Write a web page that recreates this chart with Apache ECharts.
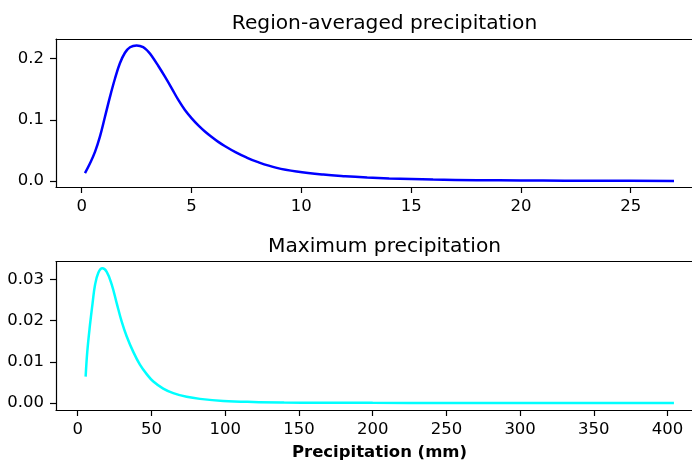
<!DOCTYPE html>
<html>
<head>
<meta charset="utf-8">
<script src="https://cdn.jsdelivr.net/npm/echarts@6/dist/echarts.min.js"></script>
<style>
html,body{margin:0;padding:0;background:#fff;}
#c{width:692px;height:460px;}
</style>
</head>
<body>
<div id="c"></div>
<script>
// Region-averaged precipitation (top panel)
const avgX = [0.15,0.38,0.61,0.83,1.06,1.29,1.52,1.74,1.97,2.2,2.5,2.8,3.03,3.19,3.49,3.79,4.10,4.40,4.70,5.01,5.31,5.61,5.92,6.22,6.53,7.0,7.5,8.0,8.88,9.79,11.0,12,13,14,15,16,18,20,22,24,26.97];
const avgY = [0.013,0.029,0.048,0.0725,0.105,0.138,0.168,0.1925,0.2097,0.2187,0.2217,0.219,0.2115,0.2045,0.188,0.1706,0.1516,0.1325,0.1161,0.1025,0.0910,0.0810,0.0720,0.0640,0.0568,0.0472,0.0385,0.0312,0.0215,0.0155,0.0105,0.0078,0.0058,0.0043,0.0032,0.0024,0.0014,0.0009,0.0006,0.0004,0.0002];
// Maximum precipitation (bottom panel)
const maxX = [5.4,6.5,8.3,10.2,11.7,14.0,16.7,19.7,23.1,26.4,29.8,33.2,37.7,42.2,46.8,51.3,58,64.8,73.9,82.9,98.7,119,140,164,200,250,300,350,404.3];
const maxY = [0.0064,0.0124,0.0188,0.0245,0.0285,0.0316,0.03267,0.0318,0.0287,0.0243,0.0198,0.0162,0.0124,0.0093,0.0070,0.0052,0.0035,0.0024,0.0015,0.0010,0.0005,0.00024,0.00012,0.00007,0.00003,0.00001,0,0,0];
// Tick labels
const avgXTicks = [0,5,10,15,20,25];
const avgYTicks = [0,0.1,0.2];
const maxXTicks = [0,50,100,150,200,250,300,350,400];
const maxYTicks = [0,0.01,0.02,0.03];
const titles = ['Region-averaged precipitation','Maximum precipitation'];
const xLabel = 'Precipitation (mm)';

const FONT = 'DejaVu Sans';
const SPINE = {color:'#000', width:1.2};
const chart = echarts.init(document.getElementById('c'), null, {renderer:'canvas'});

function xAxisCfg(idx, min, max, ticks, name){
  return {
    type:'value', gridIndex:idx, min:min, max:max, position:'bottom',
    splitLine:{show:false},
    axisLine:{show:true, onZero:false, lineStyle:SPINE},
    axisTick:{show:true, inside:false, length:6, lineStyle:SPINE, customValues:ticks},
    axisLabel:{show:true, margin:11, color:'#000', fontFamily:FONT, fontSize:16.5, customValues:ticks, formatter:v=>String(v)},
    name:name||'', nameLocation:'middle', nameGap:34,
    nameTextStyle:{fontFamily:FONT, fontSize:16.5, fontWeight:'bold', color:'#000'}
  };
}
function topSpine(idx, min, max){
  return {
    type:'value', gridIndex:idx, min:min, max:max, position:'top',
    splitLine:{show:false},
    axisLine:{show:true, onZero:false, lineStyle:SPINE},
    axisTick:{show:false}, axisLabel:{show:false}
  };
}
function yAxisCfg(idx, min, max, ticks, dec){
  return {
    type:'value', gridIndex:idx, min:min, max:max, position:'left',
    splitLine:{show:false},
    axisLine:{show:true, onZero:false, lineStyle:SPINE},
    axisTick:{show:true, inside:false, length:6, lineStyle:SPINE, customValues:ticks},
    axisLabel:{show:true, margin:12, color:'#000', fontFamily:FONT, fontSize:16.5, customValues:ticks, formatter:v=>Number(v).toFixed(dec)}
  };
}

const option = {
  animation:false,
  backgroundColor:'#fff',
  title:[
    {text:titles[0], left:379.5, textAlign:'center', top:9, textStyle:{fontFamily:FONT, fontSize:20.2, fontWeight:'normal', color:'#000'}},
    {text:titles[1], left:379.5, textAlign:'center', top:232, textStyle:{fontFamily:FONT, fontSize:20.2, fontWeight:'normal', color:'#000'}}
  ],
  grid:[
    {left:56, top:39, width:647, height:148, show:false, containLabel:false, outerBoundsMode:'none'},
    {left:56, top:261.7, width:647, height:148.3, show:false, containLabel:false, outerBoundsMode:'none'}
  ],
  xAxis:[
    xAxisCfg(0, -1.17, 28.29, avgXTicks),
    xAxisCfg(1, -14.7, 424, maxXTicks, xLabel),
    topSpine(0, -1.17, 28.29),
    topSpine(1, -14.7, 424)
  ],
  yAxis:[
    yAxisCfg(0, -0.0098, 0.2322, avgYTicks, 1),
    yAxisCfg(1, -0.0017, 0.03427, maxYTicks, 2)
  ],
  series:[
    {type:'line', xAxisIndex:0, yAxisIndex:0, data:avgX.map((x,i)=>[x,avgY[i]]), showSymbol:false, smooth:0.4, lineStyle:{color:'#0000ff', width:2.5}},
    {type:'line', xAxisIndex:1, yAxisIndex:1, data:maxX.map((x,i)=>[x,maxY[i]]), showSymbol:false, smooth:0.4, lineStyle:{color:'#00ffff', width:2.5}}
  ]
};
chart.setOption(option);
</script>
</body>
</html>
